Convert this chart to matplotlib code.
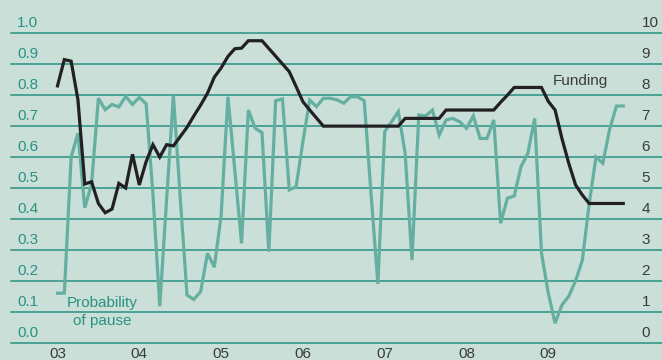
import numpy as np
import matplotlib
matplotlib.use("Agg")
import matplotlib.pyplot as plt
from matplotlib.transforms import blended_transform_factory, offset_copy

# Monthly observations, January 2003 onwards
start_year = 2003
prob_pause = [
    0.16, 0.16, 0.60, 0.677, 0.436, 0.513, 0.79, 0.753, 0.77, 0.762, 0.796, 0.77,
    0.793, 0.772, 0.48, 0.118, 0.46, 0.80, 0.47, 0.154, 0.14, 0.165, 0.289, 0.244,
    0.41, 0.795, 0.56, 0.321, 0.752, 0.693, 0.679, 0.294, 0.782, 0.788, 0.494, 0.504,
    0.65, 0.784, 0.763, 0.79, 0.79, 0.785, 0.774, 0.795, 0.795, 0.782, 0.48, 0.19,
    0.682, 0.714, 0.747, 0.612, 0.267, 0.736, 0.733, 0.752, 0.671, 0.72, 0.725, 0.714,
    0.693, 0.733, 0.66, 0.66, 0.72, 0.386, 0.467, 0.474, 0.569, 0.612, 0.725, 0.29,
    0.16, 0.063, 0.122, 0.15, 0.20, 0.267, 0.45, 0.60, 0.58, 0.69, 0.765, 0.765,
]
funding = [
    8.3, 9.15, 9.1, 7.85, 5.13, 5.2, 4.5, 4.2, 4.32, 5.15, 5.0, 6.09,
    5.1, 5.85, 6.4, 6.0, 6.4, 6.36, 6.66, 6.96, 7.33, 7.68, 8.06, 8.58,
    8.88, 9.25, 9.5, 9.52, 9.76, 9.76, 9.76, 9.51, 9.26, 9.01, 8.76, 8.28,
    7.79, 7.52, 7.26, 7.0, 7.0, 7.0, 7.0, 7.0, 7.0, 7.0, 7.0, 7.0,
    7.0, 7.0, 7.0, 7.25, 7.25, 7.25, 7.25, 7.25, 7.25, 7.52, 7.52, 7.52,
    7.52, 7.52, 7.52, 7.52, 7.52, 7.77, 8.0, 8.25, 8.25, 8.25, 8.25, 8.25,
    7.8, 7.52, 6.6, 5.8, 5.1, 4.77, 4.5, 4.5, 4.5, 4.5, 4.5, 4.5,
]
year_ticks = [2003, 2004, 2005, 2006, 2007, 2008, 2009]
year_labels = ["03", "04", "05", "06", "07", "08", "09"]
left_ticks = [0.0, 0.1, 0.2, 0.3, 0.4, 0.5, 0.6, 0.7, 0.8, 0.9, 1.0]
left_labels = ["0.0", "0.1", "0.2", "0.3", "0.4", "0.5", "0.6", "0.7", "0.8", "0.9", "1.0"]
right_labels = ["0", "1", "2", "3", "4", "5", "6", "7", "8", "9", "10"]

t = start_year + np.arange(len(prob_pause)) / 12.0

BG = "#c9dfd8"
GRID = "#2b9282"
TEAL = "#65af a1".replace(" ", "")
TEAL_TXT = "#2a9281"
DARK = "#222022"
GREY_TXT = "#3b3b3b"

plt.rcParams["font.family"] = ["Liberation Sans", "DejaVu Sans"]
W, H = 662, 360
fig = plt.figure(figsize=(W / 100, H / 100), dpi=100, facecolor=BG)

x0, x1 = 53, 627
y_bot, y_top = 342.7, 33.3
ax = fig.add_axes([x0 / W, 1 - y_bot / H, (x1 - x0) / W, (y_bot - y_top) / H])
ax.set_facecolor(BG)
ax.set_xlim(2003 - 4.5 / 81.8, 2003 + 569.5 / 81.8)
ax.set_ylim(0, 1)
for s in ax.spines.values():
    s.set_visible(False)
ax.set_xticks([])
ax.set_yticks([])

# Horizontal rules running the full width of the panel
rule_tr = blended_transform_factory(fig.transFigure, ax.transData)
for v in left_ticks:
    ax.plot([11 / W, 1.0], [v, v], transform=rule_tr, color=GRID, lw=1.1,
            clip_on=False, zorder=1)

# Left scale labels sit just above each rule
lab_tr = offset_copy(rule_tr, fig=fig, y=4.3, units="points")
for v, s in zip(left_ticks, left_labels):
    ax.text(17 / W, v, s, transform=lab_tr, ha="left", va="baseline",
            fontsize=11, color=TEAL_TXT, clip_on=False)
for v, s in zip(left_ticks, right_labels):
    ax.text(641.5 / W, v, s, transform=lab_tr, ha="left", va="baseline",
            fontsize=11, color=GREY_TXT, clip_on=False)

# Year labels under the panel
xl_tr = blended_transform_factory(ax.transData, fig.transFigure)
for yr, s in zip(year_ticks, year_labels):
    ax.text(yr, 1 - 354.5 / H, s, transform=xl_tr, ha="center", va="center",
            fontsize=11, color=GREY_TXT, clip_on=False)

ax.plot(t, prob_pause, color=TEAL, lw=2.3, solid_joinstyle="miter", zorder=3)

ax2 = ax.twinx()
ax2.set_ylim(0, 10)
ax2.set_xlim(ax.get_xlim())
for s in ax2.spines.values():
    s.set_visible(False)
ax2.set_yticks([])
ax2.plot(t, funding, color=DARK, lw=2.3, solid_joinstyle="miter", zorder=4)

fig.text(102 / W, 1 - 303.5 / H, "Probability", ha="center", va="center",
         fontsize=11, color=TEAL_TXT)
fig.text(102 / W, 1 - 321 / H, "of pause", ha="center", va="center",
         fontsize=11, color=TEAL_TXT)
fig.text(553 / W, 1 - 81.5 / H, "Funding", ha="left", va="center",
         fontsize=11, color=GREY_TXT)

fig.savefig("out.png", dpi=100, facecolor=BG)
